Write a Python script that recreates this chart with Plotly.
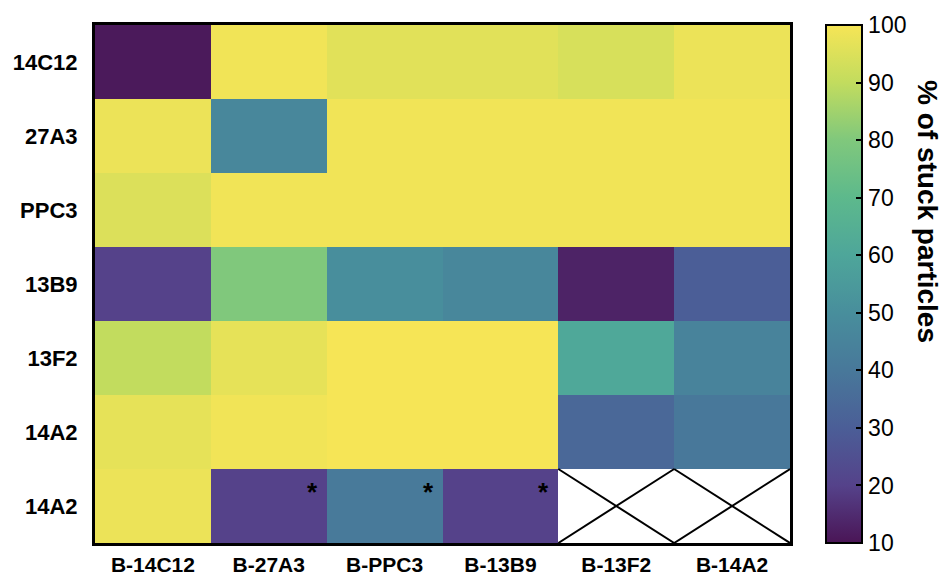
import plotly.graph_objects as go

columns = ["B-14C12", "B-27A3", "B-PPC3", "B-13B9", "B-13F2", "B-14A2"]
rows = ["14C12", "27A3", "PPC3", "13B9", "13F2", "14A2", "14A2"]

row_14C12 = [11, 99, 96, 96, 94, 98]
row_27A3 = [98, 47, 99, 99, 99, 99]
row_PPC3 = [95, 99, 99, 99, 99, 99]
row_13B9 = [20, 80, 50, 47, 13, 30]
row_13F2 = [90, 97, 100, 100, 61, 45]
row_14A2_a = [97, 99, 100, 100, 34, 40]
row_14A2_b = [98, 20, 41, 20, None, None]

z = [row_14C12, row_27A3, row_PPC3, row_13B9, row_13F2, row_14A2_a, row_14A2_b]

starred = [(6, 1), (6, 2), (6, 3)]          # (row, col) cells with an asterisk
missing = [(6, 4), (6, 5)]                  # (row, col) cells crossed out

cbar_ticks = [10, 20, 30, 40, 50, 60, 70, 80, 90, 100]

# washed-out viridis as it appears in the reference
colorscale = [
    [0.000, "#4a1556"],
    [0.111, "#55428a"],
    [0.222, "#4b5e97"],
    [0.333, "#48789a"],
    [0.444, "#488e9c"],
    [0.556, "#4ea69a"],
    [0.667, "#5db98c"],
    [0.778, "#80c87c"],
    [0.889, "#c2dc5e"],
    [1.000, "#f6e556"],
]

W, H = 947, 569
L, R, T, B = 87, 165, 17, 34
plot_w = W - L - R
plot_h = H - T - B

FONT = "Liberation Sans, Arial, Helvetica, sans-serif"

fig = go.Figure()
fig.add_trace(go.Heatmap(
    z=z,
    x=list(range(len(columns))),
    y=list(range(len(rows))),
    colorscale=colorscale,
    zmin=10, zmax=100,
    xgap=0, ygap=0,
    hoverongaps=False,
    colorbar=dict(
        thickness=36,
        len=1.0, lenmode="fraction",
        y=0.5, yanchor="middle",
        x=(818 - L) / plot_w, xanchor="left", xpad=0, ypad=0,
        outlinewidth=2, outlinecolor="black",
        ticks="inside", ticklen=7, tickwidth=2, tickcolor="black",
        tickvals=cbar_ticks,
        tickfont=dict(family=FONT, size=23, color="black"),
    ),
))

# crossed-out missing cells
for (r, c) in missing:
    fig.add_shape(type="line", x0=c - 0.5, y0=r - 0.5, x1=c + 0.5, y1=r + 0.5,
                  line=dict(color="black", width=2), xref="x", yref="y")
    fig.add_shape(type="line", x0=c - 0.5, y0=r + 0.5, x1=c + 0.5, y1=r - 0.5,
                  line=dict(color="black", width=2), xref="x", yref="y")

# asterisks
for (r, c) in starred:
    fig.add_annotation(x=c + 0.5, y=r - 0.5, text="<b>*</b>", showarrow=False,
                       xanchor="right", yanchor="top", xshift=-7, yshift=-6,
                       font=dict(family=FONT, size=26, color="black"))

# left-edge ticks on colorbar
cb_x0 = (818 - L) / plot_w
for v in cbar_ticks[1:-1]:
    yy = (v - 10) / 90
    fig.add_shape(type="line", xref="paper", yref="paper",
                  x0=cb_x0, x1=cb_x0 + 7 / plot_w, y0=yy, y1=yy,
                  line=dict(color="black", width=2))

fig.add_annotation(xref="paper", yref="paper",
                   x=(919 - L) / plot_w, y=(H - B - 203) / plot_h,
                   xanchor="center", yanchor="middle",
                   text="<b>% of stuck particles</b>", textangle=90, showarrow=False,
                   font=dict(family=FONT, size=28, color="black"))

fig.update_xaxes(
    tickvals=list(range(len(columns))),
    ticktext=[f"<b>{c}</b>" for c in columns],
    tickfont=dict(family=FONT, size=21, color="black"),
    range=[-0.5, len(columns) - 0.5],
    showline=True, mirror=True, linecolor="black", linewidth=3,
    showgrid=False, zeroline=False, ticks="", ticklabelstandoff=1,
    automargin=False,
)
fig.update_yaxes(
    tickvals=list(range(len(rows))),
    ticktext=[f"<b>{r}</b>" for r in rows],
    tickfont=dict(family=FONT, size=22, color="black"),
    range=[len(rows) - 0.5, -0.5],
    showline=True, mirror=True, linecolor="black", linewidth=3,
    showgrid=False, zeroline=False, ticks="", ticklabelstandoff=10,
    automargin=False,
)
fig.update_layout(
    width=W, height=H,
    margin=dict(l=L, r=R, t=T, b=B, autoexpand=False),
    paper_bgcolor="white", plot_bgcolor="white",
    showlegend=False,
)
fig.write_html("out.html")
